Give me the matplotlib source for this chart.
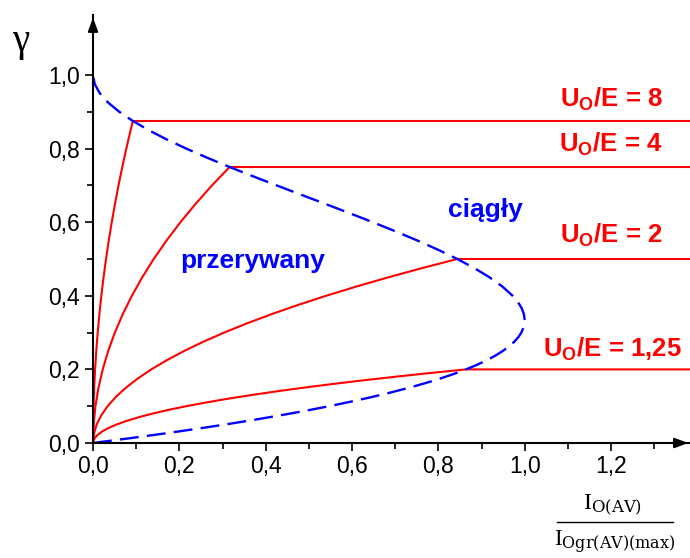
import matplotlib
matplotlib.use('Agg')
import matplotlib.pyplot as plt
from matplotlib.lines import Line2D

plt.rcParams['font.family'] = ['Liberation Sans', 'DejaVu Sans']
plt.rcParams['mathtext.fontset'] = 'custom'
plt.rcParams['mathtext.rm'] = 'Liberation Sans:bold'
plt.rcParams['mathtext.it'] = 'Liberation Sans:bold'
plt.rcParams['mathtext.bf'] = 'Liberation Sans:bold'

# boundary curve (dashed): x = I/Imax, y = gamma
gr_x = [0, 0.0823, 0.1604, 0.2345, 0.3046, 0.3708, 0.4332, 0.4918, 0.5468, 0.5981,
        0.6460, 0.6904, 0.7315, 0.7694, 0.8040, 0.8355, 0.864, 0.8895, 0.9122, 0.9321,
        0.9492, 0.9637, 0.9757, 0.9852, 0.9923, 0.9981, 1.0, 0.9982, 0.9927, 0.9842,
        0.972, 0.9485, 0.9188, 0.8837, 0.8438, 0.7996, 0.7518, 0.7011, 0.648, 0.5933,
        0.5375, 0.4813, 0.4253, 0.3701, 0.3164, 0.2648, 0.216, 0.1705, 0.1291, 0.0923,
        0.0608, 0.0351, 0.0160, 0.0041, 0]
gr_y = [0, 0.0125, 0.025, 0.0375, 0.05, 0.0625, 0.075, 0.0875, 0.1, 0.1125,
        0.125, 0.1375, 0.15, 0.1625, 0.175, 0.1875, 0.2, 0.2125, 0.225, 0.2375,
        0.25, 0.2625, 0.275, 0.2875, 0.3, 0.3167, 0.3333, 0.35, 0.367, 0.383,
        0.4, 0.425, 0.45, 0.475, 0.5, 0.525, 0.55, 0.575, 0.6, 0.625,
        0.65, 0.675, 0.7, 0.725, 0.75, 0.775, 0.8, 0.825, 0.85, 0.875,
        0.9, 0.925, 0.95, 0.975, 1.0]

# discontinuous-mode curves for Uo/E = 8, 4, 2, 1.25
m8_x = [0, 0.0003, 0.0012, 0.00271, 0.00482, 0.00753, 0.01085, 0.01477, 0.01929, 0.02441,
        0.03013, 0.03646, 0.04339, 0.05093, 0.05906, 0.0678, 0.07715, 0.08709, 0.09229]
m8_y = [0, 0.05, 0.1, 0.15, 0.2, 0.25, 0.3, 0.35, 0.4, 0.45,
        0.5, 0.55, 0.6, 0.65, 0.7, 0.75, 0.8, 0.85, 0.875]
m4_x = [0, 0.0014, 0.0056, 0.0127, 0.0225, 0.0352, 0.0506, 0.0689, 0.09, 0.1139,
        0.1406, 0.1702, 0.2025, 0.2377, 0.2756, 0.3164]
m4_y = [0, 0.05, 0.1, 0.15, 0.2, 0.25, 0.3, 0.35, 0.4, 0.45,
        0.5, 0.55, 0.6, 0.65, 0.7, 0.75]
m2_x = [0, 0.0021, 0.0084, 0.019, 0.0338, 0.0527, 0.0759, 0.1034, 0.135, 0.1709,
        0.2109, 0.2552, 0.3038, 0.3565, 0.4134, 0.4746, 0.54, 0.6096, 0.6834, 0.7615, 0.8438]
m2_y = [0, 0.025, 0.05, 0.075, 0.1, 0.125, 0.15, 0.175, 0.2, 0.225,
        0.25, 0.275, 0.3, 0.325, 0.35, 0.375, 0.4, 0.425, 0.45, 0.475, 0.5]
m125_x = [0, 0.00216, 0.00864, 0.01944, 0.03456, 0.054, 0.07776, 0.10584, 0.13824, 0.17496,
          0.216, 0.26136, 0.31104, 0.36504, 0.42336, 0.486, 0.55296, 0.62424, 0.69984,
          0.77976, 0.864]
m125_y = [0, 0.01, 0.02, 0.03, 0.04, 0.05, 0.06, 0.07, 0.08, 0.09,
          0.1, 0.11, 0.12, 0.13, 0.14, 0.15, 0.16, 0.17, 0.18, 0.19, 0.2]

levels = [0.875, 0.75, 0.5, 0.2]
labels = ['8', '4', '2', '1,25']
label_x = [1.32, 1.32, 1.32, 1.364]
label_y = [0.913, 0.791, 0.543, 0.234]
x_end = 1.381

fig = plt.figure(figsize=(6.9, 5.58), dpi=100)
ax = fig.add_axes([0.1348, 0.2061, 0.8665, 0.767])

red = '#ff0000'
blue = '#0000ff'
for cx, cy, lev in zip([m8_x, m4_x, m2_x, m125_x], [m8_y, m4_y, m2_y, m125_y], levels):
    ax.plot(cx + [x_end], cy + [lev], color=red, lw=1.5, clip_on=False)

ax.plot(gr_x, gr_y, color=blue, lw=1.7, dashes=(8, 3.5), clip_on=False)

for lx, ly, lab in zip(label_x, label_y, labels):
    ax.text(lx, ly, r'U$_{\mathrm{O}}$/E = ' + lab, color=red, fontsize=18.5,
            fontweight='bold', ha='right', va='baseline')

ax.text(0.91, 0.614, 'ciągły', color=blue, fontsize=19, fontweight='bold',
        ha='center', va='baseline')
ax.text(0.369, 0.476, 'przerywany', color=blue, fontsize=19, fontweight='bold',
        ha='center', va='baseline')

ax.set_xlim(0, 1.385)
ax.set_ylim(0, 1.163)
for s in ['top', 'right']:
    ax.spines[s].set_visible(False)
for s in ['left', 'bottom']:
    ax.spines[s].set_linewidth(1.5)

ax.set_xticks([0, 0.2, 0.4, 0.6, 0.8, 1.0, 1.2])
ax.set_xticklabels(['0,0', '0,2', '0,4', '0,6', '0,8', '1,0', '1,2'])
ax.set_xticks([0.1, 0.3, 0.5, 0.7, 0.9, 1.1, 1.3], minor=True)
ax.set_yticks([0, 0.2, 0.4, 0.6, 0.8, 1.0])
ax.set_yticklabels(['0,0', '0,2', '0,4', '0,6', '0,8', '1,0'])
ax.set_yticks([0.1, 0.3, 0.5, 0.7, 0.9], minor=True)
ax.tick_params(which='major', length=6, width=1.2, labelsize=16.5, direction='out')
ax.tick_params(axis='x', which='major', pad=3)
ax.tick_params(which='minor', length=4, width=1.2, direction='out')

# axis arrows
ax.annotate('', xy=(1.0, 0), xycoords='axes fraction', xytext=(0.97, 0),
            arrowprops=dict(arrowstyle='-|>,head_length=0.8,head_width=0.3', color='black', lw=1.5))
ax.annotate('', xy=(0, 1.0), xycoords='axes fraction', xytext=(0, 0.97),
            arrowprops=dict(arrowstyle='-|>,head_length=0.8,head_width=0.3', color='black', lw=1.5))

fig.text(21 / 690, 1 - 41 / 558, 'γ', family='Liberation Serif', fontsize=28,
         ha='center', va='center')

# x label as fraction
fig.text(613 / 690, 1 - 505 / 558, r'I$_{\mathrm{O(AV)}}$', family='Liberation Serif',
         fontsize=17, ha='center', va='center', math_fontfamily='dejavuserif')
fig.add_artist(Line2D([557 / 690, 673 / 690], [1 - 522 / 558, 1 - 522 / 558],
                      color='black', lw=1.0))
fig.text(615 / 690, 1 - 542 / 558, r'I$_{\mathrm{Ogr(AV)(max)}}$', family='Liberation Serif',
         fontsize=16.5, ha='center', va='center', math_fontfamily='dejavuserif')

fig.savefig('out.png', dpi=100)
